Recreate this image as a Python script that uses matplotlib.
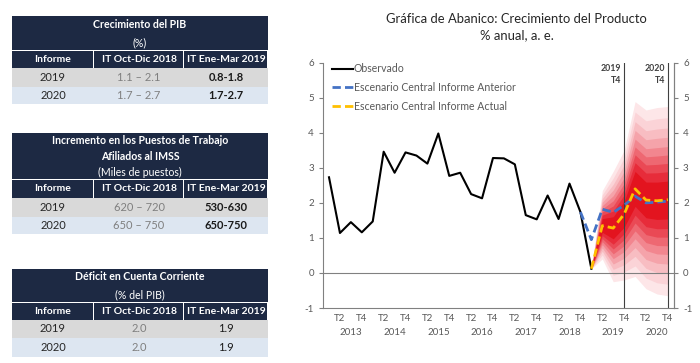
import matplotlib.pyplot as plt
from matplotlib.patches import Rectangle
from matplotlib.transforms import blended_transform_factory

plt.rcParams['font.family'] = ['Lato', 'DejaVu Sans']
plt.rcParams['axes.unicode_minus'] = False

# ---- chart data (quarter index 0 = 2013 T1) ----
obs_q = list(range(0, 25))
observado = [2.73, 1.14, 1.45, 1.16, 1.47, 3.46, 2.86, 3.44, 3.35, 3.12, 3.98, 2.77,
             2.86, 2.25, 2.13, 3.28, 3.27, 3.10, 1.65, 1.53, 2.21, 1.54, 2.55, 1.74, 0.12]

ant_q = list(range(23, 32))
anterior = [1.74, 0.95, 1.82, 1.73, 1.93, 2.19, 2.00, 2.02, 2.05]

act_q = list(range(24, 32))
actual = [0.12, 1.35, 1.28, 1.68, 2.40, 2.08, 2.06, 2.09]

fan_upper = [0.12, 2.35, 2.90, 3.50, 4.89, 4.65, 4.72, 4.75]
fan_lower = [0.12, 0.40, -0.25, -0.20, -0.10, -0.45, -0.60, -0.65]
fan_levels = [1.0, 0.88, 0.77, 0.67, 0.57, 0.48, 0.39, 0.30, 0.20]
fan_colors = ['#fde6e8', '#fbd3d7', '#f8bdc2', '#f5a3aa', '#f2868f',
              '#ee6872', '#ea4955', '#e72c3a', '#e3141f']

quarter_labels = ['T2', 'T4']
years = list(range(2013, 2021))

# ---- table data ----
col_heads = ['Informe', 'IT Oct-Dic 2018', 'IT Ene-Mar 2019']
row_years = ['2019', '2020']
t1_title = ['Crecimiento del PIB', '(%)']
t1_prev = ['1.1 – 2.1', '1.7 – 2.7']
t1_curr = ['0.8-1.8', '1.7-2.7']
t2_title = ['Incremento en los Puestos de Trabajo', 'Afiliados al IMSS', '(Miles de puestos)']
t2_prev = ['620 – 720', '650 – 750']
t2_curr = ['530-630', '650-750']
t3_title = ['Déficit en Cuenta Corriente', '(% del PIB)']
t3_prev = ['2.0', '2.0']
t3_curr = ['1.9', '1.9']

fig = plt.figure(figsize=(7, 3.63), dpi=100)

# ---------------- tables ----------------
lay = fig.add_axes([0, 0, 1, 1])
lay.set_xlim(0, 700)
lay.set_ylim(363, 0)
lay.axis('off')

navy = '#1d2943'
x0, c1, c2, x1 = 12, 94, 184, 268


def draw_table(top, hdr_bot, sub_bot, r1_bot, r2_bot, title, title_ys, prev, curr, bold_curr):
    lay.add_patch(Rectangle((x0, top), x1 - x0, hdr_bot - top, fc=navy, ec='none'))
    for a, b in [(x0, c1), (c1, c2), (c2, x1)]:
        lay.add_patch(Rectangle((a, hdr_bot + 1), b - a - 1, sub_bot - hdr_bot - 1, fc=navy, ec='none'))
    lay.add_patch(Rectangle((x0, sub_bot), x1 - x0, r1_bot - sub_bot, fc='#d9d9d9', ec='none'))
    lay.add_patch(Rectangle((x0, r1_bot), x1 - x0, r2_bot - r1_bot, fc='#dde6f1', ec='none'))
    for line, y in zip(title, title_ys):
        w = 'normal' if line.startswith('(') else 'bold'
        lay.text((x0 + x1) / 2, y, line, color='white', fontsize=7.6, fontweight=w,
                 ha='center', va='center')
    sy = (hdr_bot + sub_bot) / 2
    for txt, a, b in zip(col_heads, [x0, c1, c2], [c1, c2, x1]):
        lay.text((a + b) / 2, sy, txt, color='white', fontsize=7.5, fontweight='bold',
                 ha='center', va='center')
    for i, (ya, yb) in enumerate([(sub_bot, r1_bot), (r1_bot, r2_bot)]):
        ym = (ya + yb) / 2
        lay.text((x0 + c1) / 2, ym, row_years[i], color='#262626', fontsize=8, ha='center', va='center')
        lay.text((c1 + c2) / 2, ym, prev[i], color='#7f7f7f', fontsize=8, ha='center', va='center')
        lay.text((c2 + x1) / 2, ym, curr[i], color='#1a1a1a', fontsize=8,
                 fontweight='bold' if bold_curr else 'normal', ha='center', va='center')


draw_table(16, 50, 68, 87, 104, t1_title, [25, 42.5], t1_prev, t1_curr, True)
draw_table(133, 179, 198, 217, 234, t2_title, [140.7, 157, 172.5], t2_prev, t2_curr, True)
draw_table(269, 302, 320, 338, 357, t3_title, [277, 295], t3_prev, t3_curr, False)

# ---------------- fan chart ----------------
ax = fig.add_axes([323 / 700, 1 - 308 / 363, (674 - 323) / 700, (308 - 62.7) / 363])
ax.set_xlim(-0.55, 31.56)
ax.set_ylim(-1, 6)

for lev, col in zip(fan_levels, fan_colors):
    up = [c + lev * (u - c) for c, u in zip(actual, fan_upper)]
    lo = [c - lev * (c - l) for c, l in zip(actual, fan_lower)]
    ax.fill_between(act_q, lo, up, color=col, lw=0, zorder=1)

ax.axhline(0, color='#808080', lw=0.8, zorder=2)
for q in [27, 31]:
    ax.axvline(q, color='#404040', lw=0.8, zorder=2)
ax.text(26.75, 5.95, '2019\nT4', ha='right', va='top', fontsize=6.3, fontweight='bold',
        color='#404040', linespacing=1.3)
ax.text(30.75, 5.95, '2020\nT4', ha='right', va='top', fontsize=6.3, fontweight='bold',
        color='#404040', linespacing=1.3)

ax.plot(obs_q, observado, color='black', lw=1.5, zorder=3, label='Observado')
ax.plot(ant_q, anterior, color='#4472c4', lw=2, ls=(0, (3, 1.5)), zorder=4,
        label='Escenario Central Informe Anterior')
ax.plot(act_q, actual, color='#ffc000', lw=2, ls=(0, (3, 1.5)), zorder=5,
        label='Escenario Central Informe Actual')

leg = ax.legend(loc='upper left', bbox_to_anchor=(0.015, 1.015), frameon=False, fontsize=7.6,
                handlelength=1.9, handletextpad=0.1, labelspacing=0.75, borderaxespad=0)
for t in leg.get_texts():
    t.set_color('#595959')

gray = '#808080'
ax.spines['top'].set_visible(False)
for s in ['left', 'right', 'bottom']:
    ax.spines[s].set_color(gray)
    ax.spines[s].set_linewidth(0.8)

ax.set_yticks(range(-1, 7))
ax.tick_params(axis='y', colors=gray, labelcolor='#595959', labelsize=7, length=3, width=0.8)
ax.tick_params(axis='x', length=0, labelsize=7, labelcolor='#595959', pad=4)
ticks = []
labels = []
for k in range(len(years)):
    for j, lab in zip([1, 3], quarter_labels):
        ticks.append(4 * k + j)
        labels.append(lab)
ax.set_xticks(ticks)
ax.set_xticklabels(labels)
tr = blended_transform_factory(ax.transData, ax.transAxes)
for k, yr in enumerate(years):
    ax.text(4 * k + 2, -0.1, str(yr), transform=tr, ha='center', va='center',
            fontsize=7, color='#595959')

ax2 = ax.twinx()
ax2.set_ylim(-1, 6)
ax2.set_yticks(range(-1, 7))
ax2.tick_params(axis='y', colors=gray, labelcolor='#595959', labelsize=7, length=3, width=0.8)
for s in ['top', 'left', 'bottom']:
    ax2.spines[s].set_visible(False)
ax2.spines['right'].set_color(gray)
ax2.spines['right'].set_linewidth(0.8)

fig.text(516.7 / 700, 1 - 19 / 363, 'Gráfica de Abanico: Crecimiento del Producto',
         ha='center', va='center', fontsize=9.4, color='#262626')
fig.text(516.7 / 700, 1 - 35 / 363, '% anual, a. e.', ha='center', va='center',
         fontsize=9.4, color='#262626')

fig.savefig('out.png', dpi=100)
